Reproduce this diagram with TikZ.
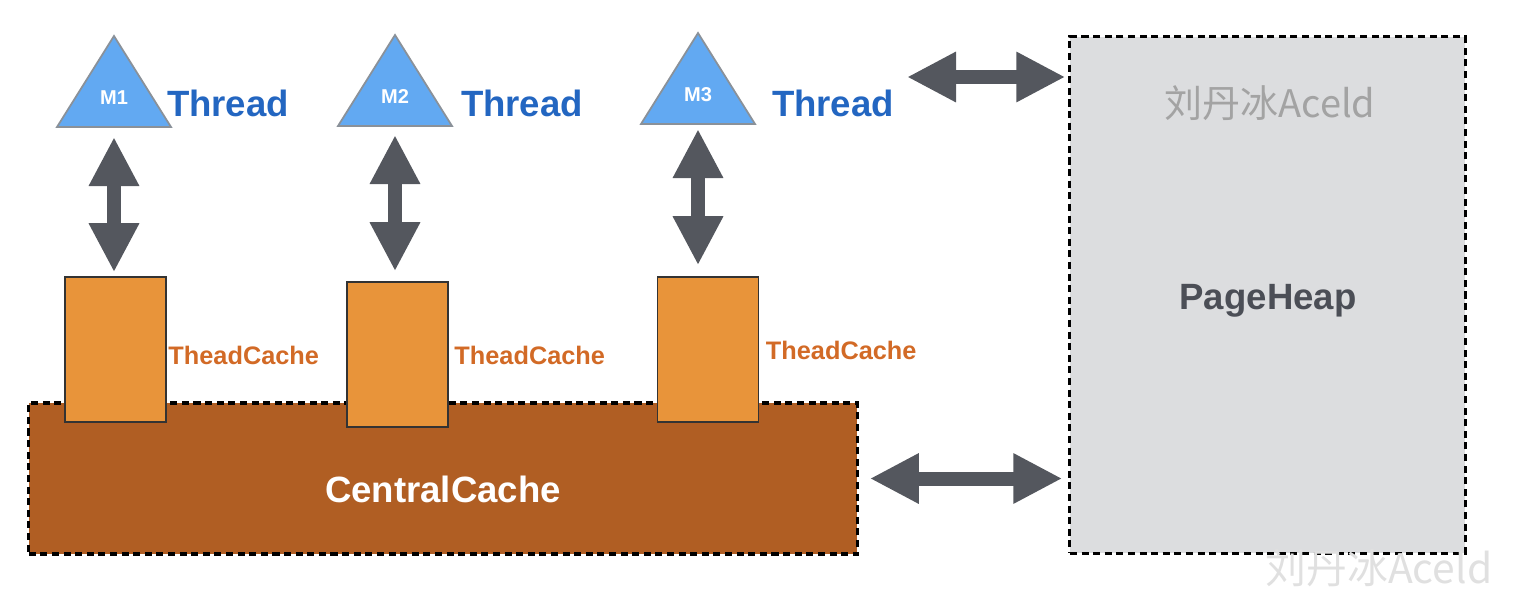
\documentclass[tikz,border=0pt]{standalone}
\usepackage{fontspec}
\setmainfont{Liberation Sans}
\newfontfamily\cjk{Noto Sans CJK SC}
\usetikzlibrary{arrows.meta,positioning}

\definecolor{triblue}{HTML}{62A9F2}
\definecolor{trigray}{HTML}{8A9199}
\definecolor{threadblue}{HTML}{2366C1}
\definecolor{arrowgray}{HTML}{54575E}
\definecolor{cacheorange}{HTML}{E8943A}
\definecolor{cachetext}{HTML}{D26A26}
\definecolor{centralbrown}{HTML}{B05E23}
\definecolor{heapgray}{HTML}{DCDDDF}
\definecolor{heaptext}{HTML}{4B4E56}

\begin{document}
\begin{tikzpicture}[
x=0.01cm, y=-0.01cm,
thread tri/.style={fill=triblue, draw=trigray, line width=0.5pt},
mlbl/.style={text=white, font=\fontsize{5.7}{7}\selectfont\bfseries, inner sep=0pt},
threadlbl/.style={text=threadblue, font=\fontsize{10.4}{12}\selectfont\bfseries, inner sep=0pt},
tcache/.style={fill=cacheorange, draw=black!80, line width=0.4pt,
minimum width=1.01cm, minimum height=1.45cm, inner sep=0pt},
tcachelbl/.style={text=cachetext, font=\fontsize{7.2}{9}\selectfont\bfseries, inner sep=0pt},
dashbox/.style={draw=black, line width=0.9pt, dash pattern=on 2pt off 1.3pt, inner sep=0pt},
dblarrow/.style={draw=arrowgray, line width=0.14cm,
{Triangle[length=0.49cm,width=0.47cm]}-{Triangle[length=0.49cm,width=0.47cm]}},
biglbl/.style={font=\fontsize{10.4}{12}\selectfont\bfseries, inner sep=0pt}
]
\useasboundingbox (0,0) rectangle (1516,600);

% central cache and page heap
\node[dashbox, fill=centralbrown, minimum width=8.28cm, minimum height=1.51cm] (cc) at (443,478.5) {};
\node[biglbl, text=white] (cclbl) at (443,489) {CentralCache};

\node[dashbox, fill=heapgray, minimum width=3.95cm, minimum height=5.16cm] (ph) at (1267.5,295) {};
\node[biglbl, text=heaptext] (phlbl) at (1268,301) {PageHeap};
\node[text=black!36, font=\fontsize{10.8}{12}\selectfont\cjk\itshape] (wm) at (1270,103) {刘丹冰Aceld};

% threads with their caches
\foreach \i/\x/\dy/\lx/\cx/\cy/\gx/\gy/\sa/\sb in
{1/114/0/228/115.5/349.5/1/355/10/4, 2/395/-1/522/397.5/354.5/5/355/9/10, 3/698/-3/833/708/349.5/6/350/5/11}{
\draw[thread tri] (\x,36+\dy) -- (\x+57,127+\dy) -- (\x-57,127+\dy) -- cycle;
\coordinate (b\i) at (\x,127+\dy);
\node[mlbl] (m\i) at (\x,98+\dy) {M\i};
\node[threadlbl] (t\i) at (\lx,103) {Thread};
\node[tcache] (tc\i) at (\cx,\cy) {};
\node[tcachelbl, anchor=west] (tcl\i) at ([xshift=\gx*0.01cm]tc\i.east |- 0,\gy) {TheadCache};
\draw[dblarrow, shorten <=\sa*0.01cm, shorten >=\sb*0.01cm] (b\i) -- (b\i |- tc\i.north);
}

% links to the page heap
\coordinate (thr) at (907,77);
\draw[dblarrow, shorten >=0.03cm] (thr) -- (thr -| ph.west);
\draw[dblarrow, shorten <=0.11cm, shorten >=0.06cm] (cc.east) -- (cc.east -| ph.west);

\node[text=black!12, font=\fontsize{11.6}{13}\selectfont\cjk] (wm2) at (1379,568) {刘丹冰Aceld};
\end{tikzpicture}
\end{document}
